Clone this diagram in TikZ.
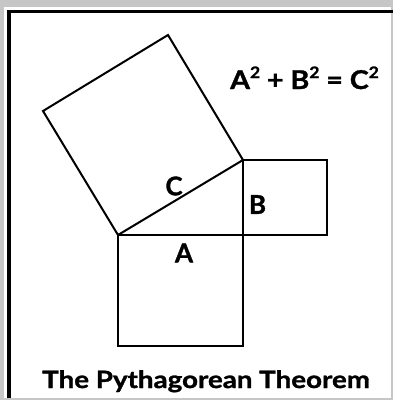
\documentclass[tikz,border=0pt]{standalone}
\usepackage{fontspec}
\setmainfont{Lato}[BoldFeatures={FakeBold=1.2}]
\newcommand{\sqd}{\raisebox{0.42em}{\fontsize{16}{16}\selectfont\bfseries 2}}
\begin{document}
\begin{tikzpicture}[x=1bp,y=-1bp,
  sq/.style={draw=black,line width=2bp,line join=miter},
  lbl/.style={font=\fontsize{26}{28}\selectfont\bfseries,inner sep=0pt},
  ttl/.style={font=\fontsize{24}{26}\selectfont\bfseries,inner sep=0pt},
  eqs/.style={font=\fontsize{26}{28}\selectfont\bfseries,inner sep=0pt},
  frame/.style={draw=black,line width=3bp}]
\useasboundingbox (0,0) rectangle (393,400);
\fill[gray!45] (0,0) rectangle (393,400);
\fill[white] (4,7) rectangle (391,398);
\draw[frame] (9,398) -- (9,11.5) -- (393,11.5);
% vertices
\coordinate (P) at (118,235);
\coordinate (Q) at (243,160);
\coordinate (R) at (243,235);
\coordinate (C1) at (168,35);
\coordinate (C2) at (43,111);
\coordinate (A2) at (243,346);
\coordinate (A3) at (118,346);
\coordinate (B2) at (327,160);
\coordinate (B3) at (327,235);
% squares
\draw[sq] (P) -- (Q) -- (C1) -- (C2) -- cycle;
\draw[sq] (P) -- (R) -- (A2) -- (A3) -- cycle;
\draw[sq] (Q) -- (B2) -- (B3) -- (R) -- cycle;
% labels
\node[lbl] (lc) at (174,186) {C};
\node[lbl] (lb) at (257.5,204.5) {B};
\node[lbl] (la) at (184,253) {A};
\node[eqs,anchor=base west,xscale=1.1] (eq) at (230,89) {A\sqd{} + B\sqd{} = C\sqd};
\node[ttl,anchor=base west,xscale=1.16] (title) at (42,388) {The Pythagorean Theorem};
\end{tikzpicture}
\end{document}
